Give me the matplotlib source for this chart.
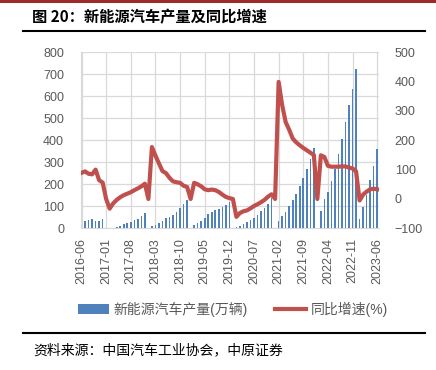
import numpy as np
import matplotlib
matplotlib.use("Agg")
import matplotlib.pyplot as plt
from matplotlib.lines import Line2D

plt.rcParams['font.family'] = ['Liberation Sans', 'Noto Sans CJK SC', 'DejaVu Sans']

# month labels 2016-06 .. 2023-06
months = []
for y in range(2016, 2024):
    for m in range(1, 13):
        if (y == 2016 and m < 6) or (y == 2023 and m > 6):
            continue
        months.append("%d-%02d" % (y, m))

# cumulative NEV production, 10k vehicles (January not reported -> 0)
production = [27, 32, 36, 44, 33, 35, 44,
              0, 1.5, 3, 7.6, 12, 18, 24, 30, 36, 44, 55, 71,
              0, 10, 15, 25, 34, 45, 51, 61, 74, 91, 109, 128,
              0, 14, 23, 33, 47, 64, 74, 82, 89, 97, 106, 118,
              0, 6, 11, 18, 27, 36, 48, 62, 77, 94, 112, 140,
              0, 32, 56, 74, 102, 127, 158, 192, 230, 268, 317, 365,
              0, 79, 132, 165, 217, 271, 336, 406, 482, 559, 635, 722,
              41, 95, 150, 218, 283, 359]

# year-on-year growth, %
yoy = [89, 94, 86, 84, 100, 64, 56,
       0, -33, -15, -3, 6, 13, 18, 23, 30, 36, 43, 52,
       0, 177, 148, 121, 95, 88, 72, 60, 57, 55, 45, 41,
       0, 55, 50, 43, 33, 30, 32, 30, 24, 15, 7, 3,
       0, -61, -48, -42, -39, -32, -24, -18, -11, -3, 8, 16,
       0, 399, 320, 262, 236, 206, 193, 183, 174, 166, 158, 150,
       0, 149, 143, 113, 110, 110, 110, 111, 111, 107, 104, 94,
       -5, 15, 25, 33, 35, 33]

x = np.arange(len(months))
tick_pos = x[::7]
tick_lab = [months[i] for i in tick_pos]

grey = '#595959'
grid_c = '#D9D9D9'

fig = plt.figure(figsize=(4.36, 3.70), dpi=100)
ax = fig.add_axes([80.7/436, 1-228.3/370, 298.6/436, 176/370])

ax.bar(x, production, width=0.45, color='#4F81BD', zorder=2, label='新能源汽车产量(万辆)')
ax.set_ylim(0, 800)
ax.set_yticks(np.arange(0, 801, 100))
ax.set_xlim(-0.23, 84.6)
ax.set_xticks(tick_pos)
ax.set_xticklabels(tick_lab, rotation=90)
ax.grid(True, color=grid_c, linewidth=0.9, zorder=0)
ax.set_axisbelow(True)
for s in ['top', 'right']:
    ax.spines[s].set_visible(False)
for s in ['left', 'bottom']:
    ax.spines[s].set_color(grid_c)
ax.tick_params(axis='both', length=0, colors=grey, labelsize=9)
ax.tick_params(axis='y', pad=12)
ax.tick_params(axis='x', pad=7)

ax2 = ax.twinx()
ax2.plot(x, yoy, color='#C0504D', linewidth=3, label='同比增速(%)', zorder=3)
ax2.set_ylim(-100, 500)
ax2.set_yticks(np.arange(-100, 501, 100))
for s in ax2.spines.values():
    s.set_visible(False)
ax2.tick_params(axis='y', length=0, colors=grey, labelsize=9, pad=11)

h1, l1 = ax.get_legend_handles_labels()
h2, l2 = ax2.get_legend_handles_labels()
leg = fig.legend(h1 + h2, l1 + l2, loc='center', bbox_to_anchor=(233/436, 1-309/370),
                 ncol=2, frameon=False, fontsize=10, handlelength=2.2,
                 handletextpad=0.35, columnspacing=2.0)
for t in leg.get_texts():
    t.set_color(grey)

# header and footer
fig.add_artist(Line2D([0, 1], [1-1.2/370, 1-1.2/370], color='#9B2B2B', linewidth=2.2))
fig.text(32/436, 1-16.7/370, '图 20：新能源汽车产量及同比增速', fontsize=11,
         fontweight='bold', va='center', ha='left', family=['Noto Sans CJK SC', 'DejaVu Sans'])
fig.add_artist(Line2D([22.7/436, 425/436], [1-31/370, 1-31/370], color='black', linewidth=1.5))
fig.add_artist(Line2D([22.7/436, 425/436], [1-333/370, 1-333/370], color='black', linewidth=1.5))
fig.text(33/436, 1-350/370, '资料来源：中国汽车工业协会，中原证券', fontsize=10,
         va='center', ha='left', family=['Noto Sans CJK SC', 'DejaVu Sans'])

fig.savefig('out.png', dpi=100)
